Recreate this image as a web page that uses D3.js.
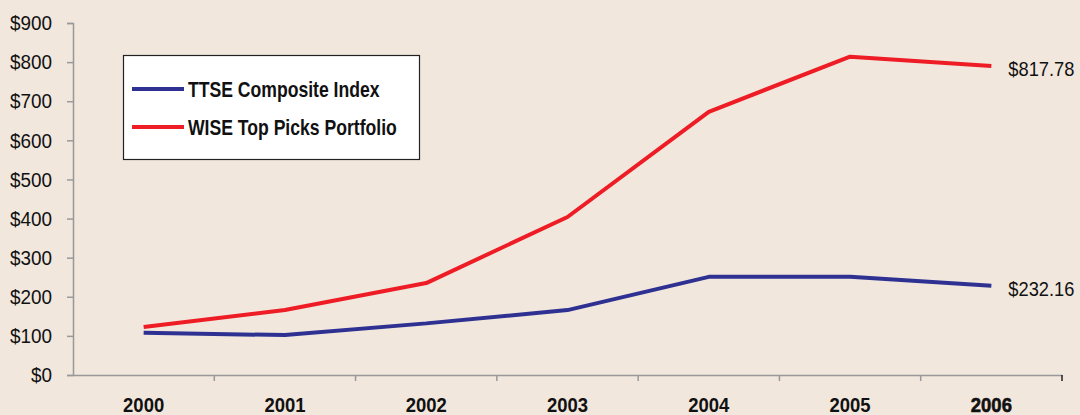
<!DOCTYPE html>
<html>
<head>
<meta charset="utf-8">
<script src="https://cdn.jsdelivr.net/npm/d3@7"></script>
<style>
  html, body { margin: 0; padding: 0; background: #f1e7dd; }
  svg { display: block; }
  text { font-family: "Liberation Sans", Arial, sans-serif; }
</style>
</head>
<body>
<svg id="chart"></svg>
<script>
// Chart data
const years = ["2000", "2001", "2002", "2003", "2004", "2005", "2006"];
const ttse = [108, 102, 132, 166, 251, 251, 228];
const wise = [123, 166, 235, 404, 673, 814, 790];
const yTicks = [0, 100, 200, 300, 400, 500, 600, 700, 800, 900];
const endLabels = ["$232.16", "$817.78"];
const seriesNames = ["TTSE Composite Index", "WISE Top Picks Portfolio"];

const margin = { top: 23, right: 18, bottom: 40, left: 73 };
const W = 1080, H = 415;
const width = W - margin.left - margin.right;
const height = H - margin.top - margin.bottom;

const svg = d3.select("#chart").attr("width", W).attr("height", H);
svg.append("rect").attr("width", W).attr("height", H).attr("fill", "#f1e7dd");

const g = svg.append("g").attr("transform", `translate(${margin.left},${margin.top})`);

const x = d3.scaleBand().domain(years).range([0, width]).padding(0);
const y = d3.scaleLinear().domain([0, 900]).range([height, 0]);
const cx = (d) => x(d) + x.bandwidth() / 2;

// y axis (labels squeezed a bit to mimic the condensed face)
const yAxis = g.append("g")
  .call(d3.axisLeft(y).tickValues(yTicks).tickSize(6).tickPadding(15).tickFormat((d) => "$" + d));
yAxis.select(".domain").attr("stroke", "#999").attr("stroke-width", 1.5);
yAxis.selectAll(".tick line").attr("stroke", "#999").attr("stroke-width", 1.5);
yAxis.selectAll("text")
  .attr("font-size", 21).attr("fill", "#111")
  .attr("x", -21 / 0.9)
  .attr("transform", "scale(0.9,1)");

// x axis: labels at band centres, ticks at band boundaries
const xAxis = g.append("g").attr("transform", `translate(0,${height})`)
  .call(d3.axisBottom(x).tickSize(0).tickSizeOuter(0));
xAxis.select(".domain").attr("stroke", "#999").attr("stroke-width", 1.5);
xAxis.selectAll("text")
  .attr("dy", null).attr("y", 37)
  .attr("font-size", 21).attr("font-weight", "bold").attr("fill", "#111")
  .attr("transform", "scale(0.88,1)")
  .attr("stroke", (d) => d === "2006" ? "#111" : null)
  .attr("stroke-width", (d) => d === "2006" ? 0.6 : null);
xAxis.selectAll(".bound")
  .data(years)
  .join("line")
  .attr("class", "bound")
  .attr("x1", (d) => x(d) + x.bandwidth())
  .attr("x2", (d) => x(d) + x.bandwidth())
  .attr("y1", 0).attr("y2", 6)
  .attr("stroke", (d, i) => i === years.length - 1 ? "#222" : "#999")
  .attr("stroke-width", 1.5);

// lines
const line = d3.line().x((d) => cx(d.year)).y((d) => y(d.value));
const series = [
  { name: seriesNames[0], color: "#2e3192", values: years.map((yr, i) => ({ year: yr, value: ttse[i] })), label: endLabels[0] },
  { name: seriesNames[1], color: "#ee1c25", values: years.map((yr, i) => ({ year: yr, value: wise[i] })), label: endLabels[1] },
];

g.selectAll(".series")
  .data(series)
  .join("path")
  .attr("class", "series")
  .attr("fill", "none")
  .attr("stroke", (d) => d.color)
  .attr("stroke-width", 4)
  .attr("stroke-linejoin", "bevel")
  .attr("d", (d) => line(d.values));

// end labels
const endX = cx(years[years.length - 1]) + 17;
g.selectAll(".end-label")
  .data(series)
  .join("text")
  .attr("class", "end-label")
  .attr("transform", (d) => `translate(${endX},${y(d.values[d.values.length - 1].value) + 3}) scale(0.87,1)`)
  .attr("dy", "0.35em")
  .attr("font-size", 21)
  .attr("fill", "#111")
  .text((d) => d.label);

// legend
const legend = svg.append("g").attr("transform", "translate(123,55)");
legend.append("rect")
  .attr("x", 0.5).attr("y", 0.5)
  .attr("width", 296).attr("height", 104)
  .attr("fill", "#fff").attr("stroke", "#222").attr("stroke-width", 1.2);
const items = legend.selectAll(".item")
  .data(series)
  .join("g")
  .attr("class", "item")
  .attr("transform", (d, i) => `translate(9,${34 + i * 38})`);
items.append("line")
  .attr("x1", 0).attr("x2", 52)
  .attr("stroke", (d) => d.color).attr("stroke-width", 4);
items.append("text")
  .attr("transform", "translate(56,0) scale(0.8,1)")
  .attr("dy", "0.36em")
  .attr("font-size", 22).attr("font-weight", "bold").attr("fill", "#111")
  .text((d) => d.name);
</script>
</body>
</html>
